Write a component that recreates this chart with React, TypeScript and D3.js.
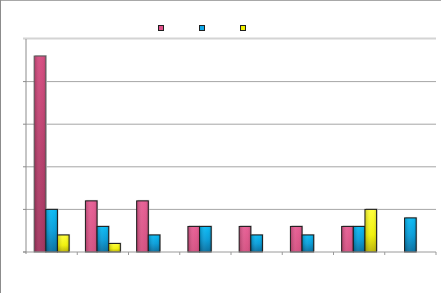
import React from "react";
import * as d3 from "d3";

const categories = ["1", "2", "3", "4", "5", "6", "7", "8"];
const seriesNames = ["A", "B", "C"];
const seriesA = [23, 6, 6, 3, 3, 3, 3, 0];
const seriesB = [5, 3, 2, 3, 2, 2, 3, 4];
const seriesC = [2, 1, 0, 0, 0, 0, 5, 0];
const yTicks = [0, 5, 10, 15, 20, 25];

const W = 441;
const H = 293;
const plot = { left: 26, right: 436, top: 39, bottom: 252 };

export default function App() {
  const series = [seriesA, seriesB, seriesC];
  const x = d3.scaleBand<string>().domain(categories).range([plot.left, plot.right]);
  const bw = x.bandwidth() / 4.4;
  const x1 = d3.scaleBand<string>().domain(seriesNames).range([0, bw * 3]);
  const y = d3.scaleLinear().domain([0, 25]).range([plot.bottom, plot.top]);
  const fills = ["url(#gPink)", "url(#gBlue)", "url(#gYellow)"];
  const legendFills = ["#e0508a", "#10a8e8", "#f0f000"];

  return (
    <div style={{ position: "absolute", left: 0, top: 0 }}>
      <svg width={W} height={H} style={{ display: "block", background: "#fff" }}>
        <defs>
          <linearGradient id="gPink" x1="0" y1="0" x2="0" y2="1">
            <stop offset="0" stopColor="#e65890" />
            <stop offset="1" stopColor="#d24a7c" />
          </linearGradient>
          <linearGradient id="gPinkDark" x1="0" y1="0" x2="0" y2="1">
            <stop offset="0" stopColor="#d4467c" />
            <stop offset="0.5" stopColor="#b43866" />
            <stop offset="1" stopColor="#a02e5a" />
          </linearGradient>
          <linearGradient id="gBlue" x1="0" y1="0" x2="0" y2="1">
            <stop offset="0" stopColor="#00b8f4" />
            <stop offset="0.5" stopColor="#009ad8" />
            <stop offset="1" stopColor="#006a9c" />
          </linearGradient>
          <linearGradient id="gYellow" x1="0" y1="0" x2="0" y2="1">
            <stop offset="0" stopColor="#ffff30" />
            <stop offset="0.6" stopColor="#f0f000" />
            <stop offset="1" stopColor="#b8b000" />
          </linearGradient>
          <linearGradient id="gShade" x1="0" y1="0" x2="1" y2="0">
            <stop offset="0" stopColor="#000" stopOpacity="0.22" />
            <stop offset="0.45" stopColor="#fff" stopOpacity="0.08" />
            <stop offset="0.7" stopColor="#fff" stopOpacity="0.05" />
            <stop offset="1" stopColor="#000" stopOpacity="0.15" />
          </linearGradient>
        </defs>

        {/* chart frame */}
        <line x1={0} x2={W} y1={0.5} y2={0.5} stroke="#a8a8a8" />
        <line x1={0.5} x2={0.5} y1={0} y2={H} stroke="#8c8c8c" />

        {/* legend */}
        {seriesNames.map((s, i) => (
          <rect
            key={s}
            x={158.5 + i * 41}
            y={25.5}
            width={5}
            height={5}
            fill={legendFills[i]}
            stroke="#202020"
          />
        ))}

        {/* plot top border */}
        <line x1={plot.left - 3} x2={plot.right} y1={plot.top - 0.5} y2={plot.top - 0.5} stroke="#d4d4d4" strokeWidth={2} />

        {/* gridlines */}
        {yTicks.filter((t) => t > 0 && t < 25).map((t) => (
          <line key={t} x1={plot.left} x2={plot.right} y1={y(t)} y2={y(t)} stroke="#a6a6a6" />
        ))}
        {/* y ticks */}
        {yTicks.filter((t) => t < 25).map((t) => (
          <line key={"yt" + t} x1={plot.left - 3} x2={plot.left} y1={y(t)} y2={y(t)} stroke="#8c8c8c" />
        ))}

        {/* bars */}
        {categories.map((c, ci) =>
          series.map((s, si) => {
            const v = s[ci];
            if (!v) return null;
            const bx = (x(c) as number) + (x.bandwidth() - bw * 3) / 2 + (x1(seriesNames[si]) as number);
            const by = y(v);
            const h = plot.bottom - by;
            const fill = si === 0 && ci === 0 ? "url(#gPinkDark)" : fills[si];
            return (
              <g key={c + si}>
                <rect x={bx + 1} y={by - 1} width={bw} height={h} fill="#c8c8c8" />
                <rect x={bx} y={by} width={bw} height={h} fill={fill} />
                <rect x={bx} y={by} width={bw} height={h} fill="url(#gShade)" />
                <rect
                  x={bx}
                  y={by}
                  width={bw}
                  height={h}
                  fill="none"
                  stroke={si === 0 && ci === 0 ? "#5a5a5a" : "#1c1c1c"}
                  strokeWidth={1}
                />
              </g>
            );
          })
        )}

        {/* axes */}
        <line x1={plot.left - 3} x2={plot.right} y1={plot.bottom} y2={plot.bottom} stroke="#9a9a9a" />
        <line x1={plot.left} x2={plot.left} y1={plot.top} y2={plot.bottom + 2} stroke="#8c8c8c" />
        {categories.map((c, i) => (
          <line
            key={"xt" + c}
            x1={(x(c) as number) + x.bandwidth()}
            x2={(x(c) as number) + x.bandwidth()}
            y1={plot.bottom}
            y2={plot.bottom + 3}
            stroke="#9a9a9a"
          />
        ))}
      </svg>
    </div>
  );
}
